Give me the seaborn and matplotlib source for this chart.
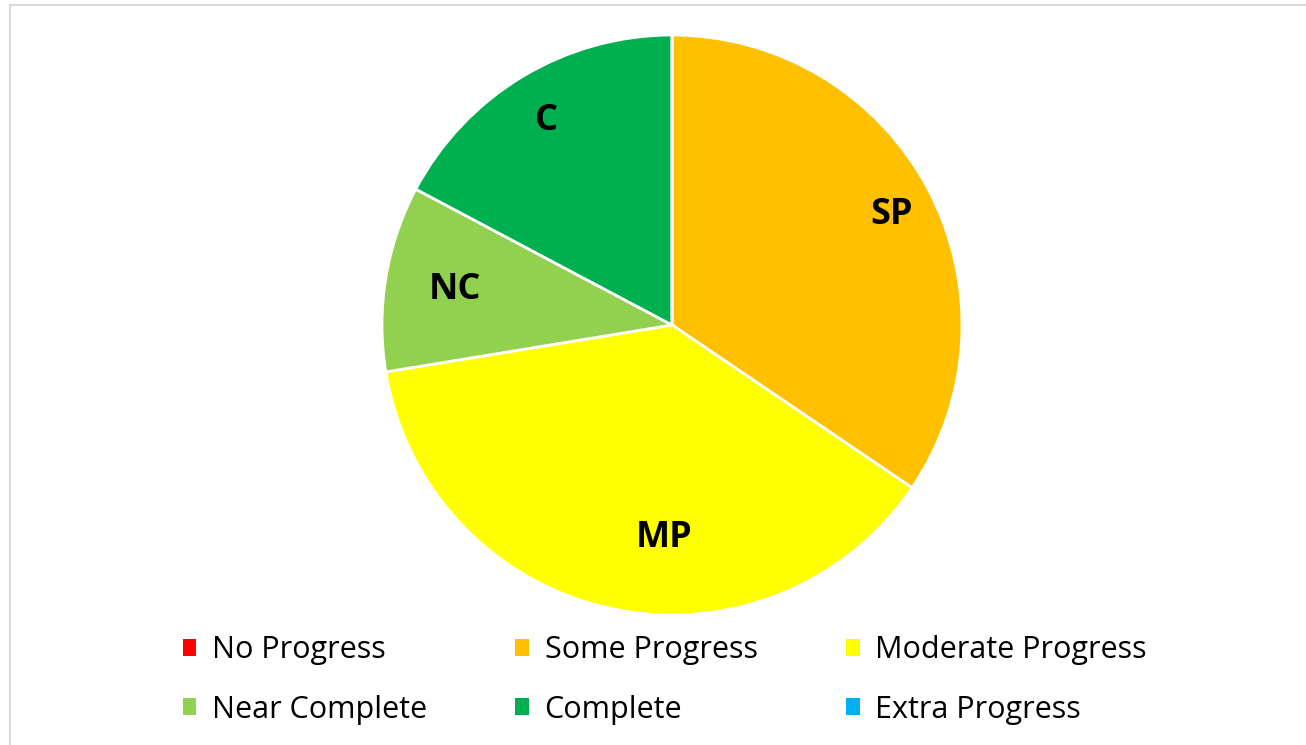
import matplotlib
matplotlib.use("Agg")
import matplotlib.pyplot as plt
import seaborn as sns
from matplotlib.patches import Rectangle, Patch

# Progress categories and counts
categories = ["No Progress", "Some Progress", "Moderate Progress",
              "Near Complete", "Complete", "Extra Progress"]
short_labels = ["NP", "SP", "MP", "NC", "C", "EP"]
counts = [0, 10, 11, 3, 5, 0]
colors = ["#FF0000", "#FFC000", "#FFFF00", "#92D050", "#00B050", "#00B0F0"]

# label placement inside the pie (data units, radius = 1), like Excel's best fit
label_pos = {"SP": (0.758, 0.38), "MP": (-0.028, -0.735),
             "NC": (-0.748, 0.122), "C": (-0.434, 0.705)}

sns.set_theme(style="white")
plt.rcParams["font.family"] = ["Open Sans", "DejaVu Sans"]

fig = plt.figure(figsize=(13.06, 7.45), dpi=100)

# light gray frame around the chart area
fig.patches.append(Rectangle((10 / 1306, -0.05), 1.1, (745 - 5) / 745 + 0.05,
                             transform=fig.transFigure, fill=False,
                             edgecolor="#D9D9D9", linewidth=1.5))

ax = fig.add_axes([(672 - 290) / 1306, (745 - 615) / 745, 580 / 1306, 580 / 745])

wedges, _ = ax.pie(counts, colors=colors, startangle=90, counterclock=False,
                   wedgeprops=dict(edgecolor="white", linewidth=2))
for lab, c in zip(short_labels, counts):
    if c > 0:
        x, y = label_pos[lab]
        ax.text(x, y, lab, fontsize=26, fontweight="bold", color="black",
                ha="center", va="center")
ax.set_xlim(-1, 1)
ax.set_ylim(-1, 1)
ax.set_aspect("equal")
ax.axis("off")

# legend filled row by row (matplotlib fills by column)
order = [0, 3, 1, 4, 2, 5]
handles = [Patch(facecolor=colors[i], edgecolor="none") for i in order]
fig.legend(handles, [categories[i] for i in order], ncol=3, loc="center",
           bbox_to_anchor=(0.509, 1 - 680 / 745), frameon=False,
           fontsize=22, labelcolor="black", handlelength=0.45,
           handleheight=0.45, handletextpad=0.5, columnspacing=2.9,
           labelspacing=0.95)

fig.savefig("out.png", dpi=100)
